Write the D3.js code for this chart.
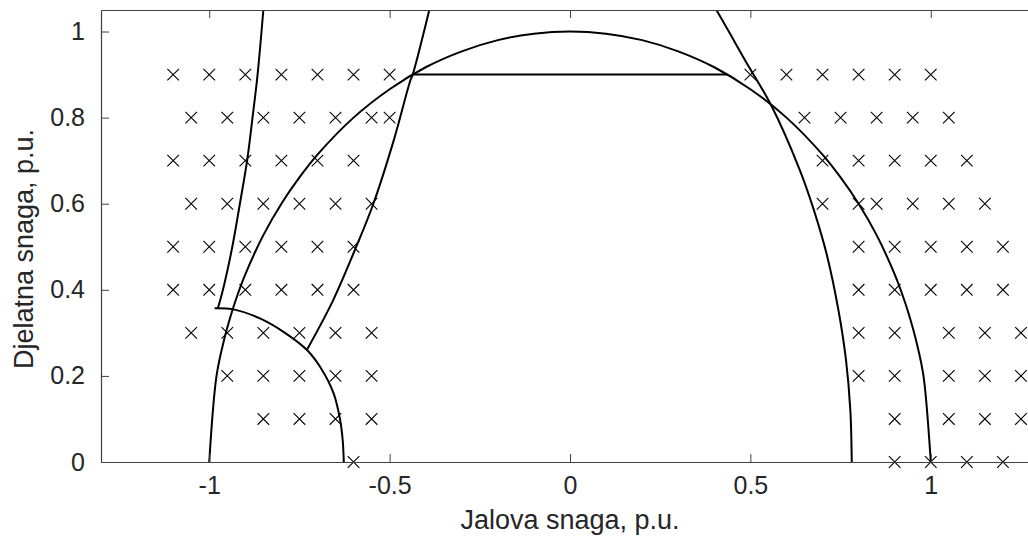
<!DOCTYPE html>
<html>
<head>
<meta charset="utf-8">
<script src="https://cdn.jsdelivr.net/npm/d3@7"></script>
<style>
  html, body { margin: 0; padding: 0; background: #ffffff; }
  svg { display: block; }
</style>
</head>
<body>
<svg id="chart" width="1028" height="541"></svg>
<script>
// ---------------- data (Q = reactive, P = active, p.u.) ----------------
const xTicks = [-1, -0.5, 0, 0.5, 1];
const yTicks = [0, 0.2, 0.4, 0.6, 0.8, 1];
const xTickLabels = ["-1", "-0.5", "0", "0.5", "1"];
const yTickLabels = ["0", "0.2", "0.4", "0.6", "0.8", "1"];
const xLabel = "Jalova snaga, p.u.";
const yLabel = "Djelatna snaga, p.u.";

// capability circle
const circleQ = [-1, -0.98, -0.96, -0.94, -0.92, -0.9, -0.85, -0.8, -0.75, -0.7, -0.6, -0.5, -0.4, -0.3, -0.2, -0.1, 0,
                 0.1, 0.2, 0.3, 0.4, 0.5, 0.6, 0.7, 0.75, 0.8, 0.85, 0.9, 0.92, 0.94, 0.96, 0.98, 1];
const circleP = [0, 0.199, 0.28, 0.341, 0.392, 0.436, 0.527, 0.6, 0.661, 0.714, 0.8, 0.866, 0.917, 0.954, 0.98, 0.995, 1,
                 0.995, 0.98, 0.954, 0.917, 0.866, 0.8, 0.714, 0.661, 0.6, 0.527, 0.436, 0.392, 0.341, 0.28, 0.199, 0];

// turbine limit (horizontal line)
const turbineQ = [-0.436, 0.436];
const turbineP = [0.9, 0.9];

// under-excitation small arc
const arcQ = [-0.985, -0.93, -0.858, -0.79, -0.729, -0.692, -0.655, -0.637, -0.63, -0.627];
const arcP = [0.357, 0.354, 0.333, 0.30, 0.26, 0.22, 0.159, 0.097, 0.05, 0];

// left steep limit
const leftLineQ = [-0.976, -0.962, -0.936, -0.915, -0.895, -0.88, -0.866, -0.85];
const leftLineP = [0.357, 0.4, 0.5, 0.6, 0.7, 0.8, 0.9, 1.05];

// stability limit
const stabQ = [-0.729, -0.657, -0.595, -0.545, -0.489, -0.443, -0.436, -0.39];
const stabP = [0.261, 0.375, 0.495, 0.6, 0.746, 0.885, 0.9, 1.05];

// right limit
const rightLineQ = [0.406, 0.447, 0.486, 0.558, 0.637, 0.676, 0.712, 0.744, 0.765, 0.777, 0.781];
const rightLineP = [1.05, 0.99, 0.932, 0.828, 0.678, 0.585, 0.481, 0.353, 0.237, 0.121, 0];

// operating points (x markers), grouped by P row
const markerRowP = [0.9, 0.8, 0.7, 0.6, 0.5, 0.4, 0.3, 0.2, 0.1, 0];
const markerRowQ = [
  [-1.1, -1.0, -0.9, -0.8, -0.7, -0.6, -0.5, 0.5, 0.6, 0.7, 0.8, 0.9, 1.0],
  [-1.05, -0.95, -0.85, -0.75, -0.65, -0.55, -0.5, 0.65, 0.75, 0.85, 0.95, 1.05],
  [-1.1, -1.0, -0.9, -0.8, -0.7, -0.6, 0.7, 0.8, 0.9, 1.0, 1.1],
  [-1.05, -0.95, -0.85, -0.75, -0.65, -0.55, 0.7, 0.8, 0.85, 0.95, 1.05, 1.15],
  [-1.1, -1.0, -0.9, -0.8, -0.7, -0.6, 0.8, 0.9, 1.0, 1.1, 1.2],
  [-1.1, -1.0, -0.9, -0.8, -0.7, -0.6, 0.8, 0.9, 1.0, 1.1, 1.2],
  [-1.05, -0.95, -0.85, -0.75, -0.65, -0.55, 0.8, 0.9, 1.05, 1.15, 1.25],
  [-0.95, -0.85, -0.75, -0.65, -0.55, 0.8, 0.9, 1.05, 1.15, 1.25],
  [-0.85, -0.75, -0.65, -0.55, 0.9, 1.05, 1.15, 1.25],
  [-0.6, 0.9, 1.0, 1.1, 1.2]
];

// ---------------- drawing ----------------
const svg = d3.select("#chart");
const padL = 101, padR = 1039, padT = 10, padB = 462;
const x = d3.scaleLinear().domain([-1.3, 1.3]).range([padL, padR]);
const y = d3.scaleLinear().domain([0, 1.05]).range([padB, padT]);

const axisColor = "#404040";
const textColor = "#262626";
const font = "'Liberation Sans', Arial, Helvetica, sans-serif";

svg.append("rect").attr("width", 1028).attr("height", 541).attr("fill", "#fff");

svg.append("defs").append("clipPath").attr("id", "plotclip")
  .append("rect").attr("x", padL).attr("y", padT).attr("width", padR - padL).attr("height", padB - padT);

const zip = (qs, ps) => qs.map((q, i) => [q, ps[i]]);
const smooth = d3.line().x(d => x(d[0])).y(d => y(d[1])).curve(d3.curveCatmullRom.alpha(0.5));
const straight = d3.line().x(d => x(d[0])).y(d => y(d[1])).curve(d3.curveLinear);

const curves = svg.append("g").attr("clip-path", "url(#plotclip)");
[[circleQ, circleP, smooth], [turbineQ, turbineP, straight], [arcQ, arcP, smooth],
 [leftLineQ, leftLineP, smooth], [stabQ, stabP, smooth], [rightLineQ, rightLineP, smooth]]
  .forEach(([qs, ps, gen]) => {
    curves.append("path").datum(zip(qs, ps))
      .attr("d", gen).attr("fill", "none").attr("stroke", "#000")
      .attr("stroke-width", 2).attr("stroke-linejoin", "round");
  });

// markers
const pts = [];
markerRowP.forEach((p, i) => markerRowQ[i].forEach(q => pts.push([q, p])));
const m = 5.8;
svg.append("g").selectAll("path.mk").data(pts).join("path")
  .attr("class", "mk")
  .attr("d", d => {
    const cx = x(d[0]), cy = y(d[1]);
    return `M${cx - m},${cy - m}L${cx + m},${cy + m}M${cx - m},${cy + m}L${cx + m},${cy - m}`;
  })
  .attr("stroke", "#000").attr("stroke-width", 1.1).attr("fill", "none");

// axes (box with inward ticks)
const ax = svg.append("g");
ax.append("g").attr("transform", `translate(0,${padB})`)
  .call(d3.axisBottom(x).tickValues(xTicks).tickSizeInner(-8).tickSizeOuter(0).tickPadding(14)
        .tickFormat((d, i) => xTickLabels[i]));
ax.append("g").attr("transform", `translate(0,${padT})`)
  .call(d3.axisTop(x).tickValues(xTicks).tickSizeInner(-8).tickSizeOuter(0).tickFormat(""));
ax.append("g").attr("transform", `translate(${padL},0)`)
  .call(d3.axisLeft(y).tickValues(yTicks).tickSizeInner(-8).tickSizeOuter(0).tickPadding(16)
        .tickFormat((d, i) => yTickLabels[i]));
ax.append("g").attr("transform", `translate(${padR},0)`)
  .call(d3.axisRight(y).tickValues(yTicks).tickSizeInner(-8).tickSizeOuter(0).tickFormat(""));

ax.selectAll(".domain").attr("stroke", axisColor).attr("stroke-width", 1.2);
ax.selectAll(".tick line").attr("stroke", axisColor).attr("stroke-width", 1);
ax.selectAll(".tick text").attr("fill", textColor).attr("font-family", font).attr("font-size", 25);

// labels
svg.append("text").attr("x", 570).attr("y", 529).attr("text-anchor", "middle")
  .attr("font-family", font).attr("font-size", 27).attr("fill", textColor).text(xLabel);
svg.append("text").attr("transform", "translate(33,249) rotate(-90)").attr("text-anchor", "middle")
  .attr("font-family", font).attr("font-size", 27).attr("fill", textColor).text(yLabel);
</script>
</body>
</html>
